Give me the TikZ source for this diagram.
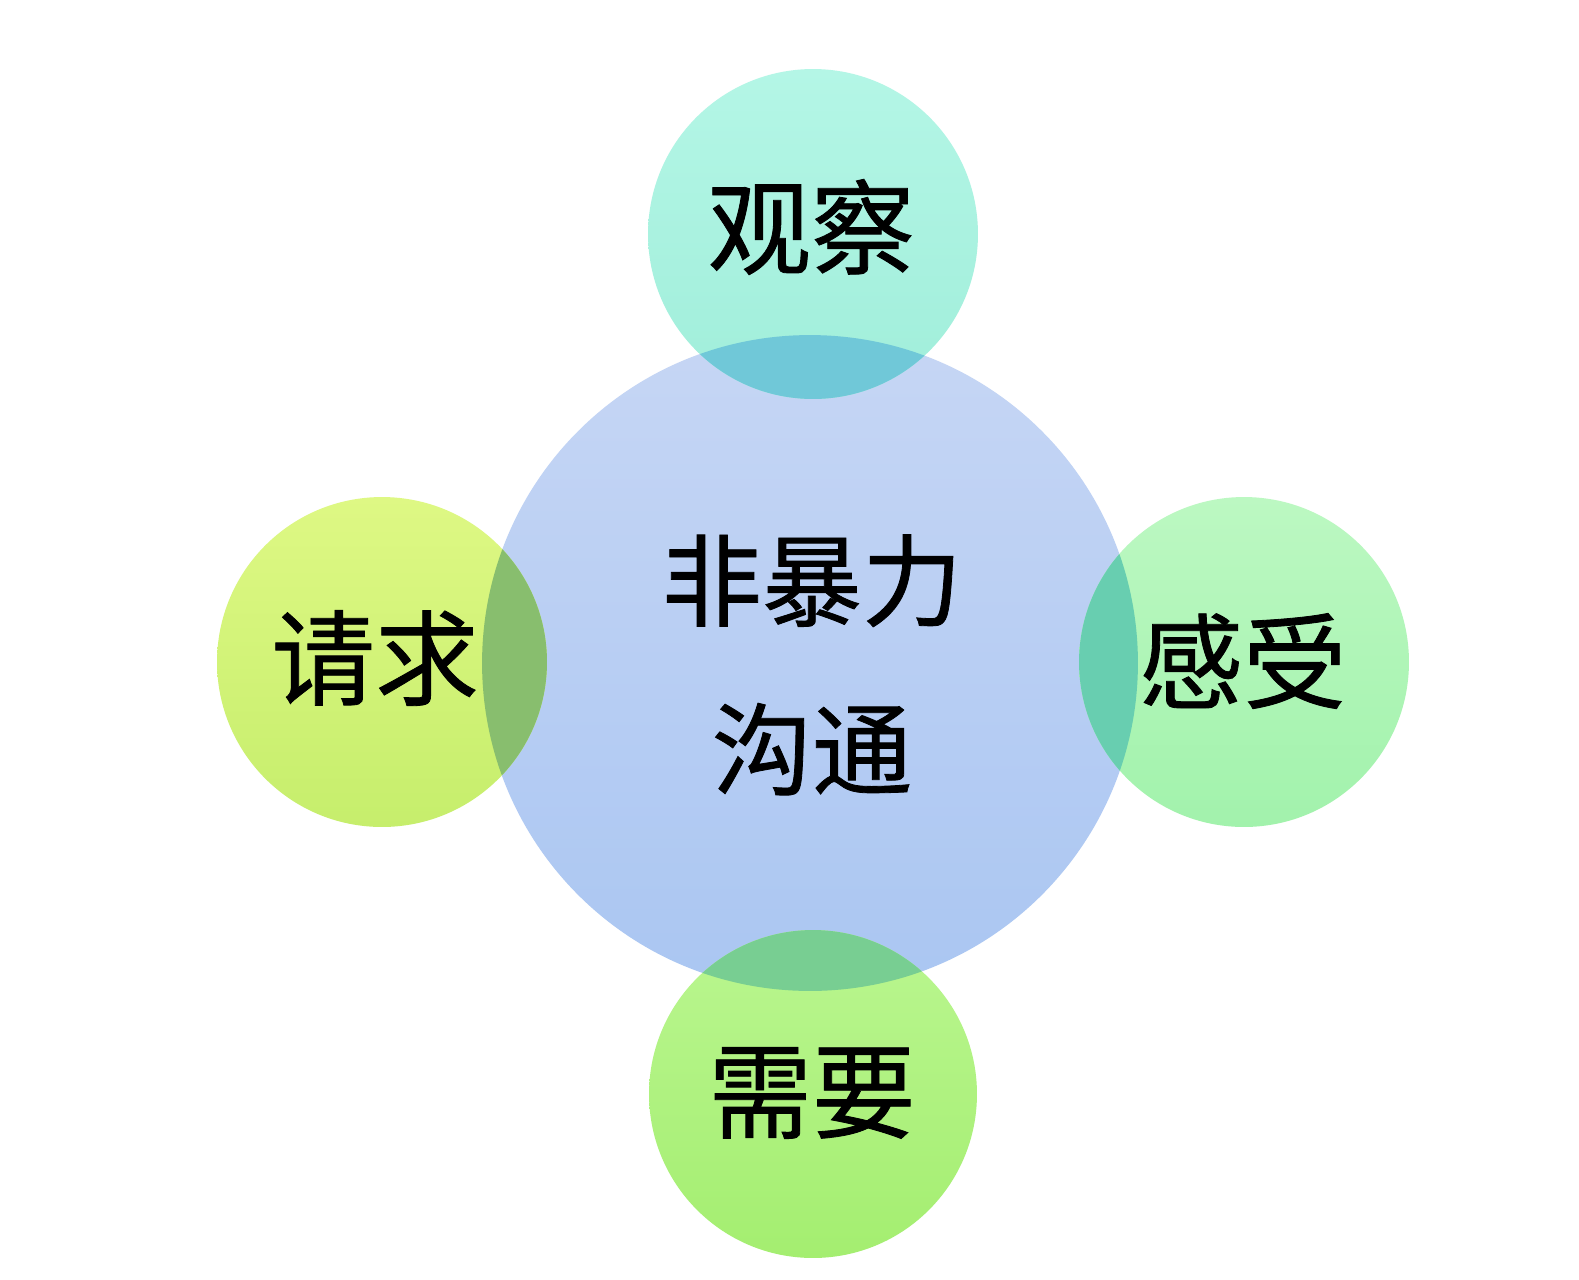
\documentclass[tikz,border=0pt]{standalone}
\usepackage{fontspec}
\newfontfamily\cjk[FakeBold=0.8]{Noto Sans CJK SC}
\definecolor{cTopA}{RGB}{180,246,230}
\definecolor{cTopB}{RGB}{160,238,218}
\definecolor{cMidA}{RGB}{198,214,244}
\definecolor{cMidB}{RGB}{170,198,242}
\definecolor{cLeftA}{RGB}{222,248,132}
\definecolor{cLeftB}{RGB}{198,238,108}
\definecolor{cRightA}{RGB}{188,248,194}
\definecolor{cRightB}{RGB}{162,242,172}
\definecolor{cBotA}{RGB}{186,246,144}
\definecolor{cBotB}{RGB}{164,238,112}
\definecolor{lensTop}{RGB}{112,200,216}
\definecolor{lensLeft}{RGB}{136,190,110}
\definecolor{lensRight}{RGB}{104,206,176}
\definecolor{lensBot}{RGB}{120,206,146}
\tikzset{
  bubble/.style={circle, draw=none, inner sep=0pt},
  lbl/.style={font=\cjk\fontsize{59pt}{59pt}\selectfont, text=black, inner sep=0pt},
  mainlbl/.style={font=\cjk\fontsize{57pt}{96pt}\selectfont, text=black, inner sep=0pt, align=center}
}
\begin{document}
\begin{tikzpicture}[x=0.02cm,y=-0.02cm]
\fill[white] (0,0) rectangle (1579,1279);
\useasboundingbox (0,0) rectangle (1579,1279);
% circles
\node[bubble, minimum size=13.12cm, top color=cMidA, bottom color=cMidB] (mid) at (810,663) {};
\node[bubble, minimum size=6.6cm, top color=cTopA, bottom color=cTopB] (obs) at (813,234) {};
\node[bubble, minimum size=6.6cm, top color=cLeftA, bottom color=cLeftB] (req) at (382,662) {};
\node[bubble, minimum size=6.6cm, top color=cRightA, bottom color=cRightB] (feel) at (1244,662) {};
\node[bubble, minimum size=6.56cm, top color=cBotA, bottom color=cBotB] (need) at (813,1094) {};
% overlaps
\begin{scope}
  \clip (mid.center) circle (6.56cm);
  \fill[lensTop] (obs.center) circle (3.3cm);
  \fill[lensLeft] (req.center) circle (3.3cm);
  \fill[lensRight] (feel.center) circle (3.3cm);
  \fill[lensBot] (need.center) circle (3.28cm);
\end{scope}
% labels
\node[lbl] (tobs) at (811,227) {观察};
\node[lbl] (treq) at (375,658) {请求};
\node[lbl] (tfeel) at (1243,661) {感受};
\node[lbl] (tneed) at (812,1093) {需要};
\node[mainlbl] (tmid) at (812,665) {非暴力\\沟通};
\end{tikzpicture}
\end{document}
